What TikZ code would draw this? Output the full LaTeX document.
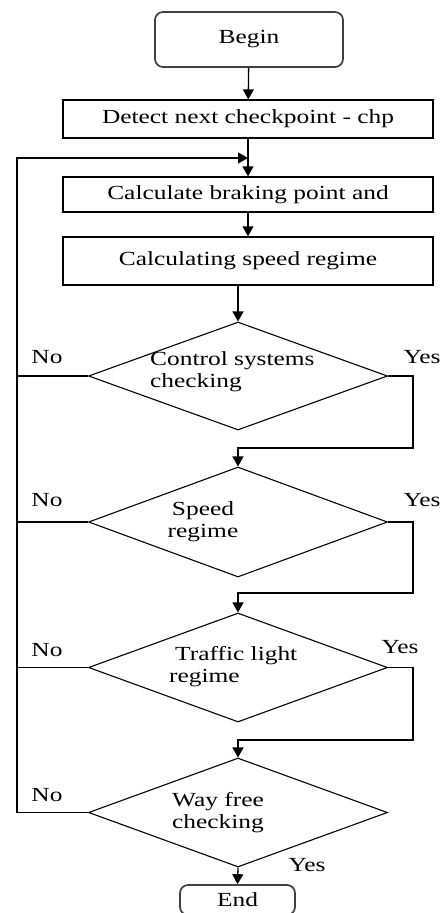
\documentclass[tikz,border=0pt]{standalone}
\usepackage{fontspec}
\setmainfont{Liberation Serif}[FakeStretch=1.27]
\usetikzlibrary{arrows.meta,shapes.geometric}
\begin{document}
\begin{tikzpicture}[x=1pt,y=-1pt,
  every node/.style={font=\fontsize{20}{22}\selectfont, inner sep=0pt},
  box/.style={draw, line width=1.3pt, minimum width=370pt},
  term/.style={draw=black!75, line width=1.7pt, rounded corners=8pt},
  dia/.style={draw, diamond, line width=1.1pt, minimum width=299pt},
  arr/.style={line width=1.3pt, -{Triangle[length=10pt,width=11pt]}},
  ln/.style={line width=1.3pt}]
\useasboundingbox (0,0) rectangle (443,913);
\clip (0,0) rectangle (443,913);
% process boxes
\node[term, minimum width=188pt, minimum height=55pt] (begin) at (249,39.5) {Begin};
\node[box, minimum height=38pt] (detect) at (248,119) {Detect next checkpoint - chp};
\node[box, minimum height=35pt] (brake) at (248,194.5) {Calculate braking point and};
\node[box, minimum height=48pt] (speed) at (248,261) {Calculating speed regime};
% diamonds
\node[dia, minimum height=108pt] (d1) at (238,376) {};
\node[dia, minimum height=110pt] (d2) at (238,522) {};
\node[dia, minimum height=109pt] (d3) at (238,667.5) {};
\node[dia, minimum height=109pt] (d4) at (238,812.5) {};
\node[term, minimum width=115pt, minimum height=30pt] (End) at (237.5,900) {End};
% diamond texts
\node[align=left, anchor=west] (t1) at (150,372) {Control systems\\checking};
\node[align=center] (t2) at (203,522) {Speed\\regime};
\node[align=left, anchor=west] (t3) at (169,667) {\hspace*{6pt}Traffic light\\regime};
\node[align=left, anchor=west] (t4) at (172,813) {Way free\\checking};
% labels
\node (n1) at (47,357) {No};
\node (n2) at (47,500) {No};
\node (n3) at (47,650) {No};
\node (n4) at (47,795) {No};
\node (y1l) at (422,357) {Yes};
\node (y2l) at (422,500) {Yes};
\node (y3l) at (400,647) {Yes};
\node (y4l) at (307,865) {Yes};
% connectors
\draw[arr] (begin) -- (detect);
\draw[arr] (detect) -- (brake);
\draw[arr] (brake) -- (speed);
\draw[arr] (speed.south -| d1.north) -- (d1.north);
\coordinate (lp) at (17,158);
\coordinate (j1) at (413,448);
\coordinate (j2) at (413,593);
\coordinate (j3) at (413,740);
\draw[arr] (d1.east) -| (j1) -- (j1 -| d2.north) -- (d2.north);
\draw[arr] (d2.east) -| (j2) -- (j2 -| d3.north) -- (d3.north);
\draw[arr] (d3.east) -| (j3) -- (j3 -| d4.north) -- (d4.north);
\draw[arr] (d4.south) -- (End.north);
\draw[arr] (d4.west) -- (d4.west -| lp) -- (lp) -- (lp -| brake.north);
\draw[ln] (d1.west) -- (d1.west -| lp);
\draw[ln] (d2.west) -- (d2.west -| lp);
\draw[ln] (d3.west) -- (d3.west -| lp);
\end{tikzpicture}
\end{document}
